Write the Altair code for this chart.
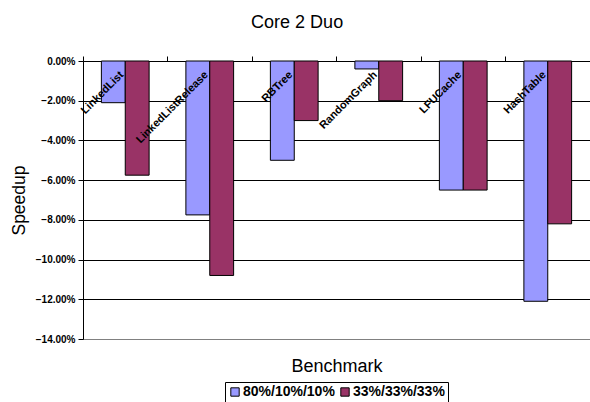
import altair as alt
import pandas as pd

FONT = "Liberation Sans"

# Benchmarks and measured speedups for the two operation mixes
benchmarks = ["LinkedList", "LinkedListRelease", "RBTree", "RandomGraph", "LFUCache", "HashTable"]
mixes = ["80%/10%/10%", "33%/33%/33%"]
speedup_80_10_10 = [-0.021, -0.0775, -0.050, -0.004, -0.065, -0.121]
speedup_33_33_33 = [-0.0575, -0.108, -0.030, -0.020, -0.065, -0.082]
mix_colors = ["#9999FF", "#993366"]
y_ticks = [0, -0.02, -0.04, -0.06, -0.08, -0.10, -0.12, -0.14]

rows = []
for i, b in enumerate(benchmarks):
    rows.append({"benchmark": b, "mix": mixes[0], "speedup": speedup_80_10_10[i]})
    rows.append({"benchmark": b, "mix": mixes[1], "speedup": speedup_33_33_33[i]})
df = pd.DataFrame(rows)
label_df = pd.DataFrame({"benchmark": benchmarks})

x_scale = alt.Scale(domain=benchmarks, paddingInner=0, paddingOuter=0)
y_scale = alt.Scale(domain=[-0.14, 0], nice=False, zero=True)

y_axis = alt.Axis(
    values=y_ticks, format=".2%", title="Speedup",
    labelFontWeight="bold", labelFontSize=10, labelFont=FONT, labelColor="black",
    labelPadding=3, tickSize=5, tickColor="black", domainColor="black",
    grid=True,
    gridColor={"condition": {"test": "datum.value < -0.13", "value": "#808080"}, "value": "black"},
    titleFont=FONT, titleFontSize=17.5, titleFontWeight="normal", titleColor="black",
    titlePadding=7,
)

bars = alt.Chart(df).mark_bar(stroke="black", strokeWidth=1).encode(
    x=alt.X(
        "benchmark:N", scale=x_scale, sort=benchmarks,
        axis=alt.Axis(orient="top", labels=False, title=None, ticks=True, tickSize=5,
                      tickColor="black", domainColor="black", bandPosition=0, grid=False),
    ),
    xOffset=alt.XOffset("mix:N", sort=mixes, scale=alt.Scale(paddingOuter=0.77, paddingInner=0)),
    y=alt.Y("speedup:Q", scale=y_scale, axis=y_axis),
    color=alt.Color(
        "mix:N", sort=mixes, scale=alt.Scale(domain=mixes, range=mix_colors),
        legend=alt.Legend(
            title=None, orient="none", direction="horizontal", legendX=142, legendY=321,
            symbolType="square", symbolSize=70, symbolStrokeColor="black", symbolStrokeWidth=1,
            labelFont=FONT, labelFontSize=14, labelFontWeight="bold", labelColor="black",
            strokeColor="black", padding=3, columnPadding=3, symbolOffset=0, labelOffset=1,
        ),
    ),
)

labels = alt.Chart(label_df).mark_text(
    angle=315, align="right", baseline="middle", font=FONT, fontSize=11,
    fontWeight="bold", color="black", dx=-11, dy=6.5,
).encode(
    x=alt.X(
        "benchmark:N", scale=x_scale, sort=benchmarks,
        axis=alt.Axis(orient="bottom", labels=False, ticks=False, domainColor="#808080",
                      title="Benchmark", titleFont=FONT, titleFontSize=18,
                      titleFontWeight="normal", titleColor="black", titlePadding=18, grid=False),
    ),
    y=alt.Y(datum=0, scale=y_scale, axis=y_axis),
    text="benchmark:N",
)

chart = alt.layer(bars, labels).resolve_axis(x="independent").properties(
    width=507,
    height=278,
    autosize=alt.AutoSizeParams(type="none"),
    padding={"left": 83, "top": 61, "right": 0, "bottom": 63},
    title=alt.Title("Core 2 Duo", font=FONT, fontSize=18, fontWeight="normal", color="black",
                    anchor="middle", frame="bounds", offset=24, dx=-3),
).configure_view(stroke=None).configure(background="white")

chart.save("out.html", embed_options={"renderer": "svg", "actions": False})
